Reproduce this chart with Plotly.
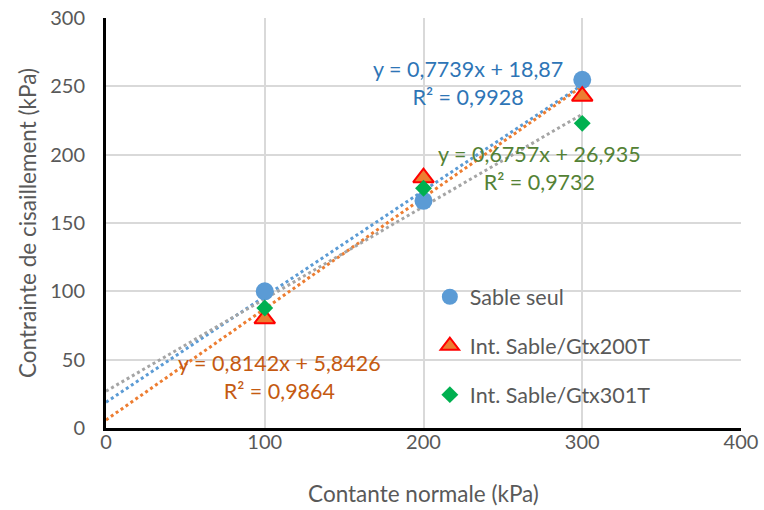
import numpy as np
import plotly.graph_objects as go

x_vals = [100, 200, 300]
sable_seul = [100, 166.2, 254.8]
gtx200t = [80, 183.2, 242.8]
gtx301t = [87.8, 175.4, 222.9]
series_names = ["Sable seul", "Int. Sable/Gtx200T", "Int. Sable/Gtx301T"]
x_ticks = [0, 100, 200, 300, 400]
y_ticks = [0, 50, 100, 150, 200, 250, 300]

FONT = "Lato"
GRAY = "#595959"

fig = go.Figure()

line_colors = ["#5B9BD5", "#ED7D31", "#A5A5A5"]
series = [sable_seul, gtx200t, gtx301t]
x_line = np.array([0, 300])
for ys, c in zip(series, line_colors):
    m, b = np.polyfit(x_vals, ys, 1)
    fig.add_trace(go.Scatter(x=x_line, y=m * x_line + b, mode="lines",
                             line=dict(color=c, width=3, dash="dot"),
                             showlegend=False, hoverinfo="skip"))

fig.add_trace(go.Scatter(x=x_vals, y=sable_seul, mode="markers", name=series_names[0],
                         legendgroup="a",
                         marker=dict(symbol="circle", size=18, color="#5B9BD5")))
fig.add_trace(go.Scatter(x=x_vals, y=gtx200t, mode="markers", name=series_names[1],
                         legendgroup="b",
                         marker=dict(symbol="triangle-up", size=18, color="#ED7D31",
                                     line=dict(color="#FF0000", width=2))))
fig.add_trace(go.Scatter(x=x_vals, y=gtx301t, mode="markers", name=series_names[2],
                         legendgroup="c",
                         marker=dict(symbol="diamond", size=13, color="#00B050")))

ann_font = 21.5
fig.add_annotation(x=228, y=252.5, xref="x", yref="y", showarrow=False,
                   text="y = 0,7739x + 18,87<br>R² = 0,9928", align="center",
                   font=dict(family=FONT, size=ann_font, color="#2E75B6"))
fig.add_annotation(x=273, y=190, xref="x", yref="y", showarrow=False,
                   text="y = 0,6757x + 26,935<br>R² = 0,9732", align="center",
                   font=dict(family=FONT, size=ann_font, color="#548235"))
fig.add_annotation(x=109, y=37, xref="x", yref="y", showarrow=False,
                   text="y = 0,8142x + 5,8426<br>R² = 0,9864", align="center",
                   font=dict(family=FONT, size=ann_font, color="#C55A11"))

fig.update_layout(
    width=764, height=510,
    margin=dict(l=106, r=23, t=18, b=82),
    paper_bgcolor="white", plot_bgcolor="white",
    font=dict(family=FONT, color=GRAY, size=21),
    legend=dict(x=0.51, y=0.37, xanchor="left", yanchor="top",
                bgcolor="rgba(0,0,0,0)", font=dict(size=21.5, color=GRAY),
                tracegroupgap=18, itemwidth=30),
    xaxis=dict(range=[0, 400], tickvals=x_ticks, showgrid=True, gridcolor="#D9D9D9",
               gridwidth=1.5, showline=True, linecolor="black", linewidth=3,
               zeroline=False, ticks="", tickfont=dict(size=20, color=GRAY),
               ticklabelstandoff=-6, automargin=False,
               title=dict(text="Contante normale (kPa)", font=dict(size=22.5, color=GRAY),
                          standoff=35)),
    yaxis=dict(range=[0, 300], tickvals=y_ticks, showgrid=True, gridcolor="#D9D9D9",
               gridwidth=1.5, showline=True, linecolor="black", linewidth=3,
               zeroline=False, ticks="", tickfont=dict(size=20, color=GRAY),
               ticklabelstandoff=14, automargin=False,
               title=dict(text="Contrainte de cisaillement (kPa)",
                          font=dict(size=22.5, color=GRAY), standoff=8)),
)

fig.write_html("out.html")
